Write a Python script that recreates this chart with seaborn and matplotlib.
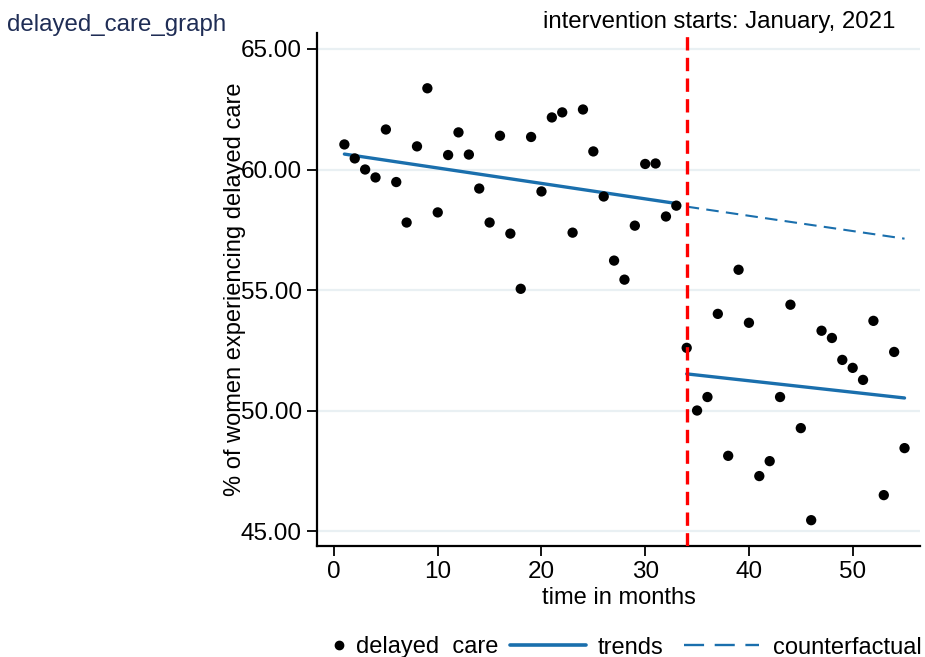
import numpy as np
import pandas as pd
import matplotlib
matplotlib.use("Agg")
import matplotlib.pyplot as plt
import seaborn as sns
from matplotlib.lines import Line2D

# monthly share of women experiencing delayed care
MONTHS = list(range(1, 56))
DELAYED_CARE = [
    61.04, 60.46, 60.00, 59.67, 61.66, 59.48, 57.80, 60.96, 63.37, 58.22,
    60.60, 61.54, 60.62, 59.21, 57.80, 61.40, 57.34, 55.05, 61.35, 59.09,
    62.16, 62.37, 57.38, 62.49, 60.75, 58.88, 56.22, 55.43, 57.67, 60.23,
    60.25, 58.05, 58.50, 52.60, 50.00, 50.56, 54.01, 48.12, 55.84, 53.64,
    47.28, 47.90, 50.56, 54.39, 49.27, 45.45, 53.31, 53.01, 52.10, 51.77,
    51.27, 53.72, 46.49, 52.43, 48.44,
]

# fitted trend segments and counterfactual (endpoints)
PRE_X = [1, 33]
PRE_Y = [60.64, 58.59]
POST_X = [34, 55]
POST_Y = [51.52, 50.52]
CF_X = [34, 55]
CF_Y = [58.46, 57.13]

INTERVENTION = 34
YTICKS = [45, 50, 55, 60, 65]
XTICKS = [0, 10, 20, 30, 40, 50]

BLUE = "#1a6fad"
GRID = "#e9f0f3"
FS = 17

sns.set_style("white")
plt.rcParams["font.family"] = ["Liberation Sans", "DejaVu Sans"]
plt.rcParams["text.color"] = "black"
plt.rcParams["axes.labelcolor"] = "black"
plt.rcParams["xtick.color"] = "black"
plt.rcParams["ytick.color"] = "black"

df = pd.DataFrame({"month": MONTHS, "pct": DELAYED_CARE})
pre = pd.DataFrame({"month": PRE_X, "pct": PRE_Y})
post = pd.DataFrame({"month": POST_X, "pct": POST_Y})
cf = pd.DataFrame({"month": CF_X, "pct": CF_Y})

fig = plt.figure(figsize=(9.25, 6.57), dpi=100)
ax = fig.add_axes([0.3427, 0.169, 0.652, 0.781])

for y in YTICKS:
    ax.axhline(y, color=GRID, lw=1.6, zorder=0)

sns.scatterplot(data=df, x="month", y="pct", color="black", s=55,
                edgecolor="none", ax=ax, zorder=3, legend=False)
sns.lineplot(data=pre, x="month", y="pct", color=BLUE, lw=2.4, ax=ax, zorder=2)
sns.lineplot(data=post, x="month", y="pct", color=BLUE, lw=2.4, ax=ax, zorder=2)
ax.plot(cf["month"], cf["pct"], color=BLUE, lw=1.5, dashes=(6, 3.5), zorder=2)

ax.axvline(INTERVENTION, color="red", lw=2.4, dashes=(4, 2.2), zorder=4)

ax.set_xlim(-1.64, 56.5)
ax.set_ylim(44.38, 65.67)
ax.set_xticks(XTICKS)
ax.set_yticks(YTICKS)
ax.set_yticklabels([f"{v:.2f}" for v in YTICKS])
ax.tick_params(axis="both", direction="out", length=7, width=1.3,
               labelsize=FS + 0.5, left=True, bottom=True, pad=4)

for side in ["top", "right"]:
    ax.spines[side].set_visible(False)
for side in ["left", "bottom"]:
    ax.spines[side].set_color("black")
    ax.spines[side].set_linewidth(1.6)

ax.set_xlabel("time in months", fontsize=FS, labelpad=3)
ax.set_ylabel("% of women experiencing delayed care", fontsize=FS, labelpad=-4)

fig.text(0.008, 0.962, "delayed_care_graph", fontsize=FS + 0.3, color="#1f2d55",
         ha="left", va="center")
ax.text(0.9585, 0.999, "intervention starts: January, 2021", fontsize=FS + 0.3,
        transform=ax.transAxes, ha="right", va="bottom")

# legend row along the bottom, laid out like the reference
ly = 1 - 645 / 657
fig.add_artist(Line2D([0.3665], [ly], marker="o", color="black", ls="none",
                      markersize=6, transform=fig.transFigure))
fig.text(0.385, ly, "delayed  care", fontsize=FS, ha="left", va="center_baseline")
fig.add_artist(Line2D([0.551, 0.634], [ly, ly], color=BLUE, lw=2.6,
                      transform=fig.transFigure))
fig.text(0.6465, ly, "trends", fontsize=FS, ha="left", va="center_baseline")
fig.add_artist(Line2D([0.7395, 0.8205], [ly, ly], color=BLUE, lw=1.7,
                      dashes=(8.5, 4.5), transform=fig.transFigure))
fig.text(0.8357, ly, "counterfactual", fontsize=FS, ha="left", va="center_baseline")

fig.savefig("out.png", dpi=100)
